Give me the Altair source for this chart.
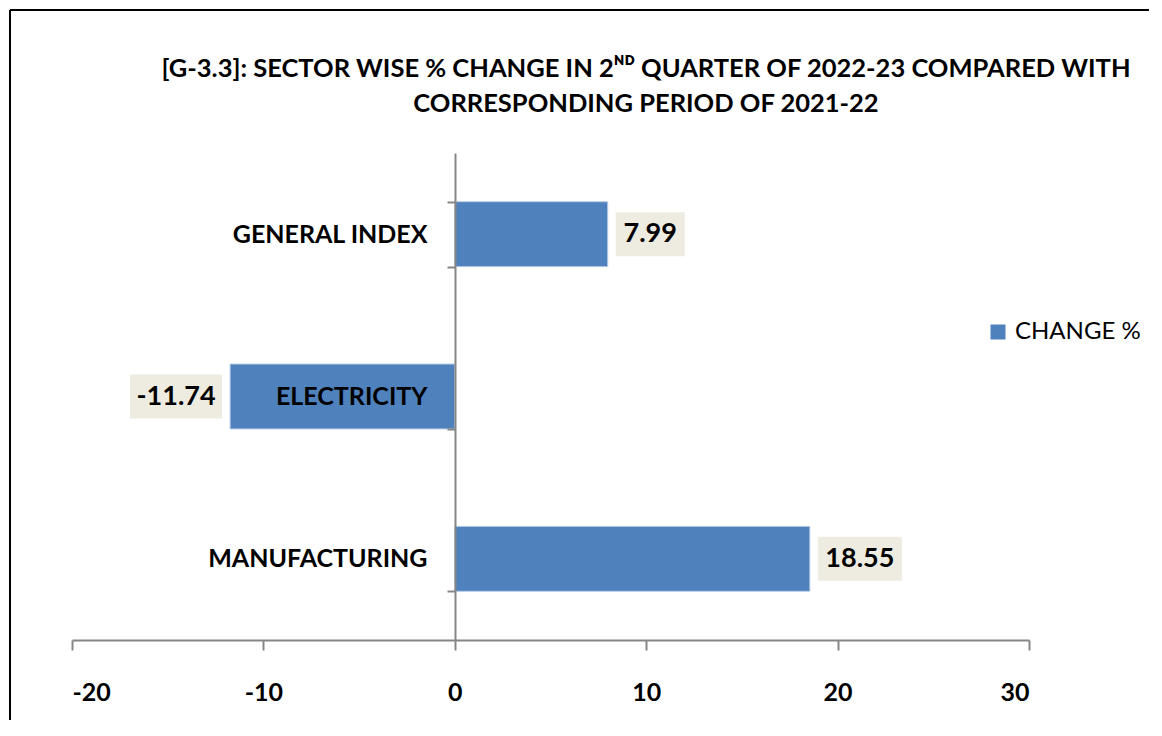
import altair as alt
import pandas as pd

# ---- data ----
categories = ["GENERAL INDEX", "ELECTRICITY", "MANUFACTURING"]
values = [7.99, -11.74, 18.55]
value_labels = ["7.99", "-11.74", "18.55"]
series_name = "CHANGE %"
x_ticks = [-20, -10, 0, 10, 20, 30]
title_lines = [
    "[G-3.3]: SECTOR WISE % CHANGE IN 2\u1d3a\u1d30 QUARTER OF 2022-23 COMPARED WITH",
    "CORRESPONDING PERIOD OF 2021-22",
]

df = pd.DataFrame({
    "sector": categories,
    "value": values,
    "label": value_labels,
    "series": [series_name] * len(categories),
})

# ---- layout / style ----
W, H = 957, 487
LEFT, TOP = 72, 153
PAGE = 8
BAR_COLOR = "#4F81BD"
BOX_COLOR = "#EEECE1"
AXIS_COLOR = "#868686"
FONT = "Lato"

# label box offsets (pixels from bar end): (box start, box end, text centre)
box_style = {
    "GENERAL INDEX": (8, 77, 42.5),
    "ELECTRICITY": (-100, -8, -54),
    "MANUFACTURING": (8, 92, 50),
}

x_scale = alt.Scale(domain=[-20, 30], nice=False, zero=False)
y_scale = alt.Scale(domain=categories, paddingInner=0.6, paddingOuter=0.3)

x_enc = alt.X(
    "value:Q",
    scale=x_scale,
    title=None,
    axis=alt.Axis(
        values=x_ticks, grid=False, tickSize=10, labelPadding=30,
        labelExpr="replace(datum.label, '\u2212', '-')",
        labelFont=FONT, labelFontWeight="bold", labelFontSize=25, labelColor="black",
        domainColor=AXIS_COLOR, tickColor=AXIS_COLOR, domainWidth=2, tickWidth=2,
    ),
)
y_enc = alt.Y(
    "sector:N",
    scale=y_scale,
    sort=categories,
    title=None,
    axis=alt.Axis(
        offset=-383, tickBand="extent", tickSize=8, labelPadding=20,
        labelFont=FONT, labelFontWeight="bold", labelFontSize=25, labelColor="black",
        domainColor=AXIS_COLOR, tickColor=AXIS_COLOR, domainWidth=2, tickWidth=2,
        zindex=1, labelLimit=400,
    ),
)

base = alt.Chart(df)

bars = base.mark_bar(stroke="#B9CDE5", strokeWidth=1).encode(
    x=x_enc,
    x2=alt.datum(0),
    y=y_enc,
    color=alt.Color(
        "series:N",
        scale=alt.Scale(domain=[series_name], range=[BAR_COLOR]),
        legend=alt.Legend(
            title=None, orient="none", legendX=914, legendY=167,
            symbolType="square", symbolSize=225, symbolStrokeWidth=0,
            labelFont=FONT, labelFontSize=24, labelColor="black",
            labelOffset=5, padding=0,
        ),
    ),
)

layers = [bars]
for cat in categories:
    b0, b1, tc = box_style[cat]
    sub = base.transform_filter(alt.datum.sector == cat)
    box = sub.mark_bar(color=BOX_COLOR, height=44, xOffset=b0, x2Offset=b1).encode(
        x=alt.X("value:Q", scale=x_scale),
        x2="value:Q",
        y=alt.Y("sector:N", scale=y_scale, sort=categories),
    )
    txt = sub.mark_text(
        dx=tc, align="center", baseline="middle",
        font=FONT, fontWeight="bold", fontSize=27, color="black",
    ).encode(
        x=alt.X("value:Q", scale=x_scale),
        y=alt.Y("sector:N", scale=y_scale, sort=categories),
        text="label:N",
    )
    layers += [box, txt]

# title as two text lines
title_df = pd.DataFrame({"t": title_lines, "line": [0, 1]})
title_style = dict(font=FONT, fontWeight="bold", fontSize=25.5,
                   color="black", align="center", baseline="middle")
title1 = alt.Chart(title_df).transform_filter(alt.datum.line == 0).mark_text(**title_style).encode(
    x=alt.value(646 - LEFT), y=alt.value(69 - TOP), text="t:N"
)
title2 = alt.Chart(title_df).transform_filter(alt.datum.line == 1).mark_text(**title_style).encode(
    x=alt.value(646 - LEFT), y=alt.value(104 - TOP), text="t:N"
)
layers += [title1, title2]

frame_df = pd.DataFrame({"k": [0]})
left_border = alt.Chart(frame_df).mark_rule(color="black", strokeWidth=2).encode(
    x=alt.value(10 - LEFT), y=alt.value(10 - TOP), y2=alt.value(H + 300)
)
top_border = alt.Chart(frame_df).mark_rule(color="black", strokeWidth=2).encode(
    y=alt.value(10 - TOP), x=alt.value(10 - LEFT), x2=alt.value(W + 300)
)
layers += [left_border, top_border]

chart = alt.layer(*layers).properties(
    width=W,
    height=H,
    autosize=alt.AutoSizeParams(type="none"),
    padding={"left": LEFT - PAGE, "top": TOP - PAGE, "right": 120, "bottom": 80},
).configure(background="white", view=alt.ViewConfig(stroke=None))

chart.save("out.html", embed_options={"renderer": "svg", "actions": False})
